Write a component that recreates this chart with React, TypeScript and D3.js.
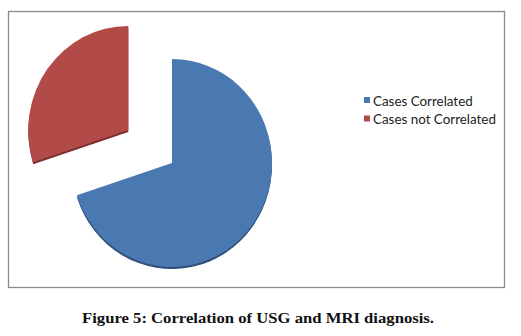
import React, { useEffect, useRef } from "react";
import * as d3 from "d3";

const categories = ["Cases Correlated", "Cases not Correlated"];
const values = [70, 30];
const colors = ["#4a78b0", "#b24a48"];
const edgeColors = ["#2f4f7a", "#7a2f2e"];
const explode = [0, 54];
const caption = "Figure 5: Correlation of USG and MRI diagnosis.";

export default function App() {
  const ref = useRef<SVGSVGElement>(null);

  useEffect(() => {
    const svg = d3.select(ref.current);
    svg.selectAll("*").remove();

    const width = 521;
    const height = 336;
    const cx = 172;
    const cy = 163;
    const r = 100;

    svg.append("rect")
      .attr("width", width).attr("height", height).attr("fill", "#fff");

    // chart frame
    svg.append("rect")
      .attr("x", 8.5).attr("y", 11.5)
      .attr("width", 496).attr("height", 276)
      .attr("fill", "none")
      .attr("stroke", "#8a8a8a")
      .attr("stroke-width", 1.3);

    const pie = d3.pie<number>().sort(null).value(d => d);
    const arcs = pie(values);
    const arc = d3.arc<d3.PieArcDatum<number>>().innerRadius(0).outerRadius(r);

    const g = svg.append("g")
      .attr("transform", `translate(${cx},${cy}) scale(1,1.04)`);

    const slices = g.selectAll("g.slice").data(arcs).enter().append("g")
      .attr("class", "slice")
      .attr("transform", (d, i) => {
        const mid = (d.startAngle + d.endAngle) / 2;
        const dx = Math.sin(mid) * explode[i];
        const dy = -Math.cos(mid) * explode[i];
        return `translate(${dx},${dy})`;
      });

    // thin 3d edge beneath each slice
    slices.append("path")
      .attr("d", arc)
      .attr("transform", "translate(0,2)")
      .attr("fill", (d, i) => edgeColors[i]);

    slices.append("path")
      .attr("d", arc)
      .attr("fill", (d, i) => colors[i]);

    // legend
    const legend = svg.append("g").attr("transform", "translate(364,97)");
    const rows = legend.selectAll("g").data(categories).enter().append("g")
      .attr("transform", (d, i) => `translate(0,${i * 18.5})`);
    rows.append("rect")
      .attr("width", 6).attr("height", 6)
      .attr("fill", (d, i) => colors[i]);
    rows.append("text")
      .attr("x", 9).attr("y", 8.5)
      .attr("font-family", "Lato, 'Open Sans', sans-serif")
      .attr("font-size", 13.4)
      .attr("fill", "#222")
      .text(d => d);

    svg.append("text")
      .attr("x", 258).attr("y", 323)
      .attr("text-anchor", "middle")
      .attr("font-family", "'Liberation Serif', 'DejaVu Serif', serif")
      .attr("font-weight", "bold")
      .attr("font-size", 15)
      .attr("textLength", 352)
      .attr("lengthAdjust", "spacingAndGlyphs")
      .attr("fill", "#111")
      .text(caption);
  }, []);

  return (
    <svg
      ref={ref}
      width={521}
      height={336}
      style={{ position: "absolute", left: 0, top: 0, display: "block" }}
    />
  );
}
